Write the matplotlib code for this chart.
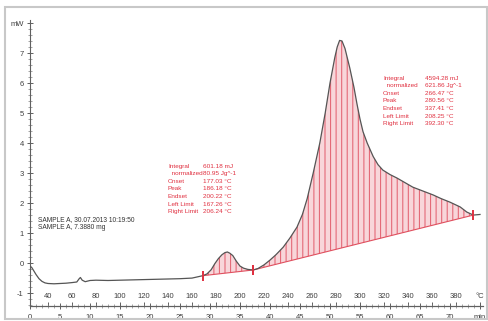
import numpy as np
import matplotlib
matplotlib.use("Agg")
import matplotlib.pyplot as plt
from matplotlib.patches import Rectangle
from matplotlib.ticker import MultipleLocator, FixedLocator, FixedFormatter

# ---- data (time in min, heat flow in mW) ----
time_min = [0, 0.3, 0.7, 1.0, 1.5, 2.0, 2.5, 3.0, 4.0, 5.0,
            6, 7, 7.8, 8.2, 8.4, 8.7, 9.2, 9.6, 10, 11,
            13, 15, 17, 19, 21, 23, 25, 27, 28.8, 29.5,
            30.2, 30.8, 31.4, 32, 32.5, 32.9, 33.3, 33.8, 34.4, 35,
            35.6, 36.3, 37.2, 38, 39, 40, 41, 42.2, 43.3, 44.5,
            45.4, 46.2, 47.2, 48.3, 49.2, 50, 50.8, 51.2, 51.6, 52,
            52.5, 53.3, 54, 54.5, 55, 55.5, 56.2, 57.2, 58, 58.8,
            60, 61.2, 62.5, 63.8, 65.5, 67.2, 68.5, 70, 71.7, 72.8,
            73.9, 75]
heat_flow_mw = [-0.10, -0.15, -0.28, -0.38, -0.52, -0.61, -0.66, -0.68, -0.69, -0.68,
                -0.67, -0.65, -0.63, -0.52, -0.48, -0.57, -0.62, -0.60, -0.58, -0.57,
                -0.58, -0.57, -0.56, -0.55, -0.54, -0.53, -0.52, -0.50, -0.42, -0.36,
                -0.22, -0.02, 0.15, 0.28, 0.35, 0.37, 0.33, 0.25, 0.06, -0.10,
                -0.17, -0.21, -0.23, -0.18, -0.06, 0.10, 0.28, 0.53, 0.83, 1.2,
                1.62, 2.15, 3.0, 4.0, 5.0, 6.0, 6.85, 7.2, 7.42, 7.40,
                7.15, 6.5, 5.85, 5.3, 4.8, 4.38, 4.0, 3.55, 3.28, 3.1,
                2.95, 2.83, 2.68, 2.53, 2.4, 2.27, 2.15, 2.03, 1.87, 1.7,
                1.6, 1.62]

# peak integration limits (time, min)
peak1_limits = [28.8, 37.2]
peak2_limits = [37.2, 73.9]

# tick labels
y_ticks = [-1, 0, 1, 2, 3, 4, 5, 6, 7, 8]
y_ticklabels = ["-1", "0", "1", "2", "3", "4", "5", "6", "7", "mW"]
time_ticks = list(range(0, 80, 5))
time_ticklabels = [str(v) for v in time_ticks[:-1]] + ["min"]
temp_ticks = list(range(40, 400, 20)) + [400]
temp_ticklabels = [str(v) for v in temp_ticks[:-1]] + ["°C"]

peak1_labels = ["Integral", "  normalized", "Onset", "Peak", "Endset", "Left Limit", "Right Limit"]
peak1_values = ["601.18 mJ", "80.95 Jg^-1", "177.03 °C", "186.18 °C", "200.22 °C", "167.26 °C", "206.24 °C"]
peak2_labels = ["Integral", "  normalized", "Onset", "Peak", "Endset", "Left Limit", "Right Limit"]
peak2_values = ["4594.28 mJ", "621.86 Jg^-1", "266.47 °C", "280.56 °C", "337.41 °C", "208.25 °C", "392.30 °C"]
sample_lines = ["SAMPLE A, 30.07.2013 10:19:50", "SAMPLE A, 7.3880 mg"]

T0, RATE = 25.0, 5.0  # temperature = T0 + RATE * time

plt.rcParams['font.family'] = ['Liberation Sans', 'DejaVu Sans']
W, H = 489, 321
fig = plt.figure(figsize=(W / 100, H / 100), dpi=100)
fig.patch.set_facecolor("white")
fig.patches.append(Rectangle((5 / W, 1 - 319 / H), 482 / W, 312 / H, transform=fig.transFigure,
                             fill=False, edgecolor="#c8c8c8", lw=1.5))

ax = fig.add_axes([30 / W, 1 - 306 / H, 453 / W, 286 / H])
ax.set_xlim(0, 75.5)
ax.set_ylim(-1.43, 8.1)

t = np.array(time_min)
y = np.array(heat_flow_mw)

fill_col = "#f8d6da"
hatch_col = "#e46a78"
plt.rcParams['hatch.linewidth'] = 0.8
for i, lim in enumerate((peak1_limits, peak2_limits)):
    yl = np.interp(lim, t, y)
    m = (t >= lim[0] - 1e-9) & (t <= lim[1] + 1e-9)
    base = np.interp(t[m], lim, yl)
    ax.fill_between(t[m], base, y[m], facecolor=fill_col, edgecolor=hatch_col,
                    hatch="|||", linewidth=0, zorder=1)
    ax.plot(lim, yl, color="#e0505f", lw=0.8, zorder=2)
    ax.plot(lim, yl, linestyle="none", marker="|", ms=7, mew=1.4, color="#e03040", zorder=4)

ax.plot(t, y, color="#555555", lw=0.9, zorder=3)

# axes styling
for s in ("top", "right"):
    ax.spines[s].set_visible(False)
for s in ("left", "bottom"):
    ax.spines[s].set_color("#606060")
    ax.spines[s].set_linewidth(0.8)

ax.yaxis.set_major_locator(FixedLocator(y_ticks))
ax.yaxis.set_major_formatter(FixedFormatter(y_ticklabels))
ax.yaxis.set_minor_locator(MultipleLocator(0.2))
ax.tick_params(axis="y", which="major", direction="inout", length=5, width=0.7,
               colors="#606060", labelsize=5.5, labelcolor="#404040", pad=2)
ax.tick_params(axis="y", which="minor", direction="inout", length=2.5, width=0.5, colors="#808080")

ax.xaxis.set_major_locator(FixedLocator(time_ticks))
ax.xaxis.set_major_formatter(FixedFormatter(time_ticklabels))
ax.xaxis.set_minor_locator(MultipleLocator(1))
ax.tick_params(axis="x", which="major", direction="inout", length=5, width=0.7,
               colors="#606060", labelsize=5.5, labelcolor="#404040", pad=3)
ax.tick_params(axis="x", which="minor", direction="inout", length=2.5, width=0.5, colors="#808080")

sec = ax.secondary_xaxis("bottom", functions=(lambda tt: T0 + RATE * tt, lambda TT: (TT - T0) / RATE))
sec.xaxis.set_major_locator(FixedLocator(temp_ticks))
sec.xaxis.set_major_formatter(FixedFormatter(temp_ticklabels))
sec.xaxis.set_minor_locator(FixedLocator([]))
sec.tick_params(axis="x", which="major", direction="in", length=3, width=0.7,
                colors="#606060", labelsize=5.5, labelcolor="#404040", pad=-9)
sec.spines["bottom"].set_color("#606060")
sec.spines["bottom"].set_linewidth(0.8)

# annotations
def block(x_lab, x_val, y0, labels, values, color):
    dy = 7.6 / 30.0
    for lb, vl in zip(labels, values):
        ax.text(x_lab, y0, lb, fontsize=4.6, color=color, va="center", ha="left")
        ax.text(x_val, y0, vl, fontsize=4.6, color=color, va="center", ha="left")
        y0 -= dy

block((168 - 30) / 6, (203 - 30) / 6, (263 - 166) / 30, peak1_labels, peak1_values, "#e03040")
block((383 - 30) / 6, (425 - 30) / 6, (263 - 78) / 30, peak2_labels, peak2_values, "#e03040")

for i, s in enumerate(sample_lines):
    ax.text((38 - 30) / 6, (263 - 219 - i * 8) / 30, s, fontsize=4.8, color="#333333",
            va="center", ha="left")

fig.savefig("out.png", dpi=100, facecolor="white")
